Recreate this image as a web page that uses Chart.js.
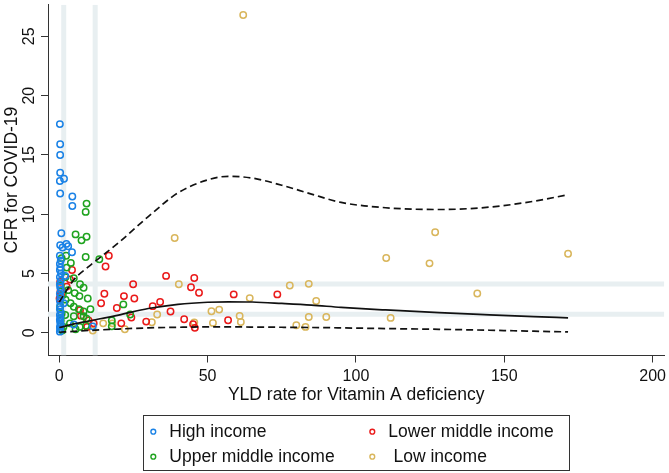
<!DOCTYPE html>
<html><head><meta charset="utf-8">
<script src="https://cdn.jsdelivr.net/npm/chart.js@4.4.1/dist/chart.umd.min.js"></script>
<style>html,body{margin:0;padding:0;background:#fff;}canvas{display:block;}</style>
</head><body>
<canvas id="c" width="669" height="473"></canvas>
<script>
// ---- data ----
const categories = ['High income', 'Upper middle income', 'Lower middle income', 'Low income'];
const colors = ['#1a82e6', '#1fa31f', '#ea1a1a', '#d9b65c'];

const highIncome = [[0.2,17.6],[0.3,15.9],[0.3,15.0],[0.3,13.5],[0.2,12.8],[1.6,13.0],[0.3,11.75],[4.4,11.5],[4.4,10.7],
  [0.7,8.4],[0.3,7.4],[1.1,7.2],[2.4,7.5],[3.0,7.3],[4.3,6.8],[0.2,6.5],[0.5,6.1],[0.2,5.8],[0.4,5.5],[0.2,5.3],
  [0.6,5.0],[0.2,4.7],[0.5,4.4],[0.2,4.1],[0.3,3.85],[0.6,3.6],[0.2,3.3],[0.4,3.0],[0.2,2.7],[0.3,2.3],[0.2,2.0],
  [0.5,1.75],[0.2,1.5],[0.4,1.3],[0.2,1.1],[0.3,0.9],[0.5,0.7],[0.2,0.5],[0.3,0.3],[0.2,0.1],[4.9,0.7],[11.3,0.55],
  [1.5,2.5],[2.0,4.8]];
const upperMiddle = [[9.2,10.9],[8.9,10.2],[5.5,8.3],[9.2,8.1],[7.5,7.8],[8.9,6.4],[13.5,6.2],[2.3,6.5],[0.8,6.3],
  [3.9,5.9],[2.5,5.5],[2.1,4.7],[4.9,4.6],[8.2,3.8],[5.2,3.35],[6.8,3.1],[9.6,2.9],[2.1,2.8],[3.8,2.5],[4.9,2.2],
  [6.6,2.0],[10.5,2.0],[8.2,1.8],[0.8,1.6],[2.0,1.5],[4.9,1.4],[8.2,1.4],[9.2,1.2],[0.5,1.05],[3.6,0.8],[6.9,0.5],
  [1.4,0.5],[21.6,2.4],[23.9,1.55],[17.7,1.05],[17.7,0.55],[0.3,2.2],[1.2,3.2],[0.5,4.0],[3.0,3.6],[7.0,4.1],
  [5.5,0.3],[9.0,0.6],[1.0,0.2]];
const lowerMiddle = [[16.7,6.5],[15.6,5.6],[4.3,5.3],[3.6,4.5],[0.4,3.5],[0.1,2.9],[24.9,4.1],[36.0,4.8],[15.2,3.3],
  [21.8,3.1],[25.3,2.9],[14.1,2.5],[19.4,2.1],[34.0,2.6],[31.5,2.25],[37.5,1.8],[7.0,1.9],[7.3,1.45],[9.9,1.05],
  [11.6,0.8],[9.4,0.5],[20.9,0.8],[24.3,1.3],[29.3,0.95],[45.5,4.63],[44.4,3.85],[47.1,3.38],[58.8,3.24],[73.5,3.24],
  [42.1,1.15],[45.1,0.73],[45.7,0.42],[56.9,1.06],[0.3,4.3],[0.6,3.2],[2.5,3.9]];
const lowIncome = [[62.0,26.8],[38.9,8.0],[40.3,4.1],[14.8,0.8],[17.9,0.8],[22.1,0.3],[11.3,0.2],[31.2,0.9],[33.0,1.55],
  [51.3,1.82],[53.9,1.96],[51.8,0.84],[60.8,1.42],[61.2,0.92],[45.5,0.87],[64.2,2.93],[77.7,3.99],[84.1,4.13],
  [86.6,2.68],[90.0,1.34],[84.1,1.34],[79.9,0.64],[83.0,0.5],[126.7,8.48],[110.2,6.31],[124.8,5.86],[171.5,6.67],
  [140.9,3.32],[111.7,1.26]];

// fitted curve and confidence band
const fitX     = [0, 5, 10, 20, 30, 40, 50, 57, 65, 75, 85, 95, 110, 128, 145, 160, 171.5];
const fitMean  = [0.45, 0.75, 1.0, 1.5, 2.05, 2.4, 2.58, 2.62, 2.6, 2.48, 2.34, 2.15, 1.93, 1.7, 1.52, 1.37, 1.26];
const fitUpper = [2.6, 4.5, 5.6, 7.6, 9.8, 11.8, 12.9, 13.2, 13.05, 12.45, 11.7, 11.0, 10.55, 10.4, 10.6, 11.1, 11.65];
const fitLower = [0.05, 0.13, 0.2, 0.32, 0.42, 0.47, 0.5, 0.5, 0.49, 0.47, 0.45, 0.42, 0.36, 0.3, 0.22, 0.14, 0.08];

// reference lines
const refLinesX = [1.5, 12.1];
const refLinesY = [1.56, 4.12];

// ticks
const xTicks = [0, 50, 100, 150, 200];
const yTicks = [0, 5, 10, 15, 20, 25];

const xMin = -3.8, xMax = 203.94, yMin = -1.91, yMax = 27.67;

// ---- build ----
const FONT = "'Liberation Sans', Arial, Helvetica, sans-serif";
Chart.defaults.font.family = FONT;
Chart.defaults.color = '#111';

const toPts = arr => arr.map(p => ({x: p[0], y: p[1]}));
const seriesArrays = [highIncome, upperMiddle, lowerMiddle, lowIncome];

const datasets = [];
seriesArrays.forEach((arr, i) => {
  datasets.push({
    type: 'scatter', label: categories[i], data: toPts(arr),
    borderColor: colors[i], backgroundColor: 'rgba(0,0,0,0)',
    pointRadius: 3.2, pointBorderWidth: 1.5, pointHoverRadius: 3.2, order: 2
  });
});
const lineDs = (ys, dash) => ({
  type: 'line', label: '', data: fitX.map((x, i) => ({x, y: ys[i]})),
  borderColor: '#111', borderWidth: 1.7, borderDash: dash, pointRadius: 0,
  cubicInterpolationMode: 'monotone', fill: false, order: 1
});
datasets.push(lineDs(fitMean, []));
datasets.push(lineDs(fitUpper, [7, 4]));
datasets.push(lineDs(fitLower, [7, 4]));
refLinesY.forEach(v => datasets.push({
  type: 'line', label: '', data: [{x: xMin, y: v}, {x: xMax, y: v}],
  borderColor: '#e8eff1', borderWidth: 5, pointRadius: 0, order: 3
}));
refLinesX.forEach(v => datasets.push({
  type: 'line', label: '', data: [{x: v, y: yMin}, {x: v, y: yMax}],
  borderColor: '#e8eff1', borderWidth: 5, pointRadius: 0, order: 3
}));

const legendPlugin = {
  id: 'boxLegend',
  afterDraw(chart) {
    const ctx = chart.ctx;
    ctx.save();
    ctx.strokeStyle = '#333';
    ctx.lineWidth = 1;
    ctx.strokeRect(143.5, 415.5, 426, 55);
    const items = [
      {i: 0, mx: 153.3, y: 431.7, tx: 169.3},
      {i: 2, mx: 372.3, y: 431.7, tx: 388.3},
      {i: 1, mx: 153.3, y: 456.7, tx: 169.3},
      {i: 3, mx: 372.3, y: 456.7, tx: 393.5}
    ];
    ctx.font = '17.5px ' + FONT;
    ctx.textBaseline = 'middle';
    ctx.textAlign = 'left';
    items.forEach(it => {
      ctx.beginPath();
      ctx.arc(it.mx, it.y, 2.4, 0, Math.PI * 2);
      ctx.strokeStyle = colors[it.i];
      ctx.lineWidth = 1.4;
      ctx.stroke();
      ctx.fillStyle = '#111';
      ctx.fillText(categories[it.i], it.tx, it.y + 0.5);
    });
    ctx.restore();
  }
};

new Chart(document.getElementById('c'), {
  type: 'scatter',
  data: {datasets},
  options: {
    responsive: false, animation: false, devicePixelRatio: 1,
    layout: {padding: {left: 0, right: 4, top: 2, bottom: 67.5}},
    plugins: {legend: {display: false}, tooltip: {enabled: false}},
    scales: {
      x: {
        type: 'linear', min: xMin, max: xMax,
        afterBuildTicks: s => { s.ticks = xTicks.map(v => ({value: v})); },
        afterFit: s => { s.height = 50; s.paddingLeft = 0; s.paddingRight = 0; },
        grid: {drawOnChartArea: false, drawTicks: true, tickLength: 7, color: '#333', lineWidth: 1},
        border: {display: true, color: '#333', width: 1},
        ticks: {padding: 4, font: {size: 16}, color: '#111', maxRotation: 0, autoSkip: false},
        title: {display: true, text: 'YLD rate for Vitamin A deficiency', font: {size: 17.5}, color: '#111', padding: {top: 0, bottom: 0}}
      },
      y: {
        type: 'linear', min: yMin, max: yMax,
        afterBuildTicks: s => { s.ticks = yTicks.map(v => ({value: v})); },
        afterFit: s => { s.width = 48; s.paddingTop = 0; s.paddingBottom = 0; },
        grid: {drawOnChartArea: false, drawTicks: true, tickLength: 7, color: '#333', lineWidth: 1},
        border: {display: true, color: '#333', width: 1},
        ticks: {padding: 3, font: {size: 16}, color: '#111', minRotation: 90, maxRotation: 90, crossAlign: 'center', autoSkip: false},
        title: {display: true, text: 'CFR for COVID-19', font: {size: 17.5}, color: '#111', padding: {top: 2, bottom: 0}}
      }
    }
  },
  plugins: [legendPlugin]
});
</script>
</body></html>
